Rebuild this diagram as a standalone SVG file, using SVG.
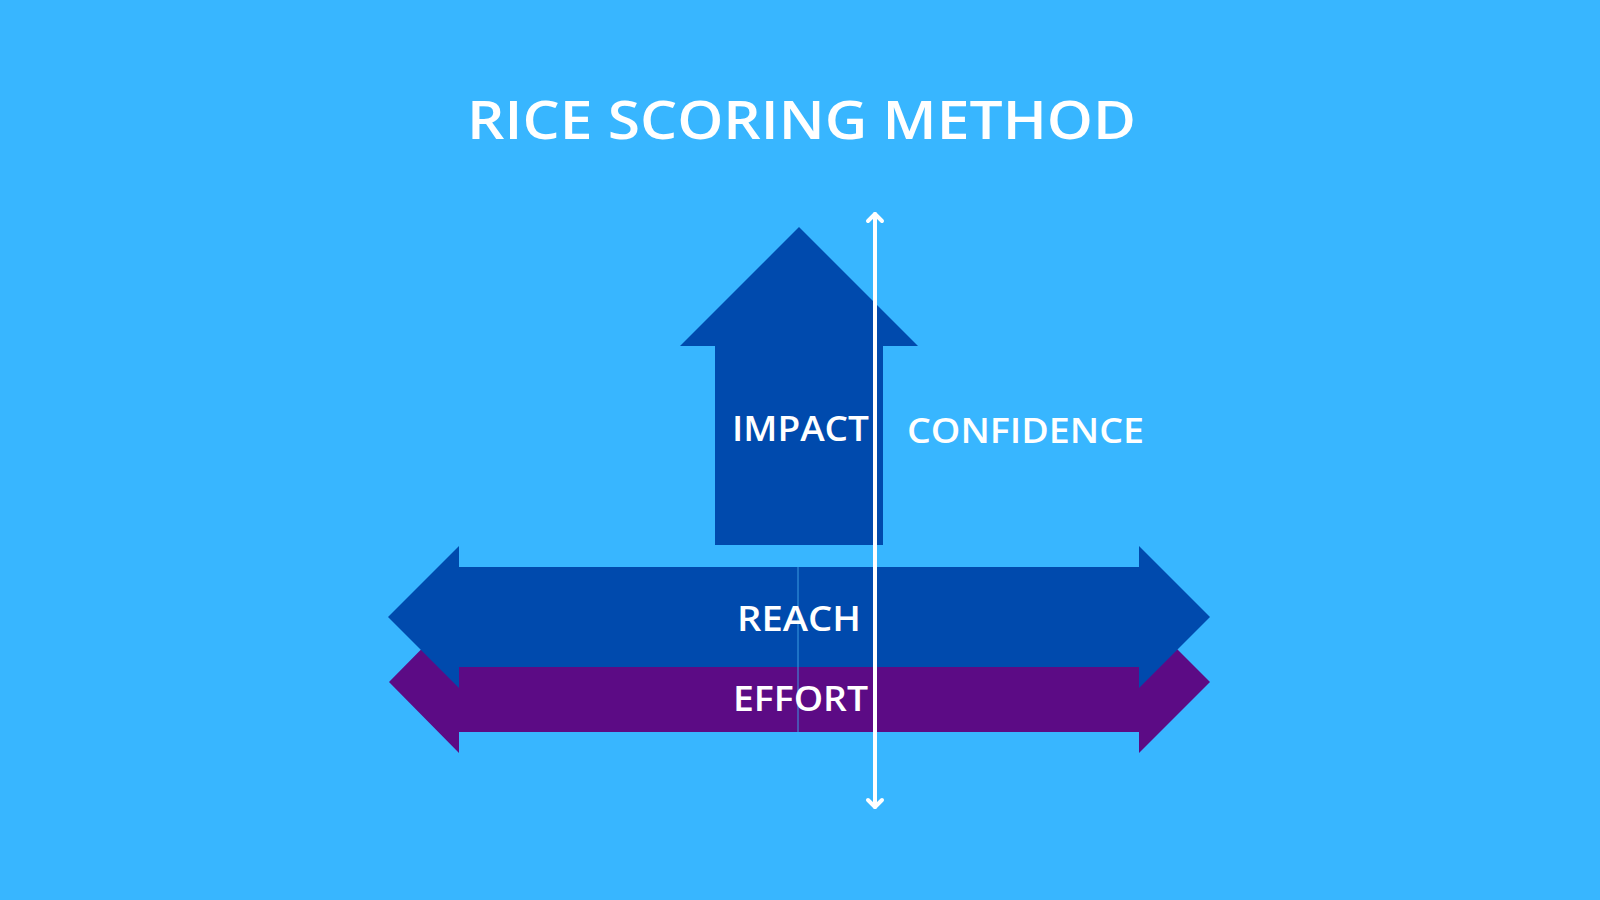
<svg xmlns="http://www.w3.org/2000/svg" width="1600" height="900" viewBox="0 0 1600 900">
  <style>
    .lbl { font-family: "Open Sans", "Liberation Sans", sans-serif; font-weight: 600; fill: #ffffff; }
    .blue { fill: #004aad; }
    .purple { fill: #5c0b85; }
  </style>
  <defs>
    <marker id="chev" markerUnits="userSpaceOnUse" markerWidth="24" markerHeight="24" refX="12" refY="12" orient="auto-start-reverse" viewBox="0 0 24 24">
      <path d="M5,5 L12,12 L5,19" fill="none" stroke="#ffffff" stroke-width="4" stroke-linecap="round" stroke-linejoin="round"/>
    </marker>
  </defs>
  <rect width="1600" height="900" fill="#38b6ff"/>

  <g id="title">
    <text class="lbl" x="467" y="139" font-size="52" textLength="669" lengthAdjust="spacingAndGlyphs">RICE SCORING METHOD</text>
  </g>

  <g id="effort">
    <polygon class="purple" points="389,682 459,611 459,632 1139,632 1139,611 1210,682 1139,753 1139,732 459,732 459,753"/>
  </g>

  <g id="reach">
    <polygon class="blue" points="388,617 459,546 459,567 1139,567 1139,546 1210,617 1139,688 1139,667 459,667 459,688"/>
  </g>

  <line x1="798" y1="567" x2="798" y2="732" stroke="#3a9be0" stroke-width="1"/>

  <g id="reach-label">
    <text class="lbl" x="737" y="631" font-size="34" textLength="124" lengthAdjust="spacingAndGlyphs">REACH</text>
  </g>
  <g id="effort-label">
    <text class="lbl" x="733" y="711" font-size="34" textLength="135" lengthAdjust="spacingAndGlyphs">EFFORT</text>
  </g>

  <g id="impact">
    <polygon class="blue" points="799,227 918,346 883,346 883,545 715,545 715,346 680,346"/>
    <text class="lbl" x="732" y="441" font-size="35" textLength="137" lengthAdjust="spacingAndGlyphs">IMPACT</text>
  </g>

  <g id="confidence">
    <text class="lbl" x="907" y="443" font-size="35" textLength="237" lengthAdjust="spacingAndGlyphs">CONFIDENCE</text>
  </g>

  <g id="connectors">
    <line x1="875" y1="214" x2="875" y2="807" stroke="#ffffff" stroke-width="4" stroke-linecap="round" marker-start="url(#chev)" marker-end="url(#chev)"/>
  </g>
</svg>
